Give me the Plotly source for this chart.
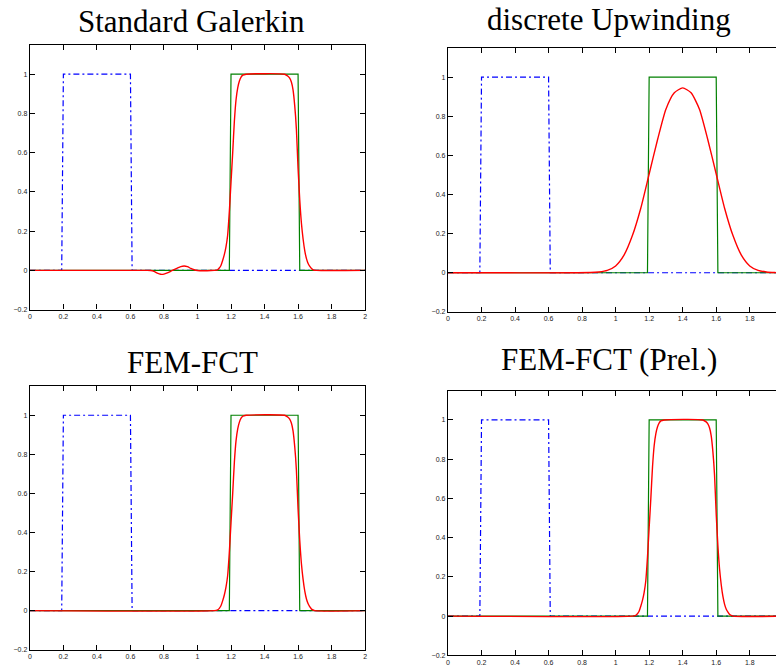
import plotly.graph_objects as go

W, H = 778, 666

# Initial profile (box on [0.2, 0.6]) and exact transported profile (box on [1.2, 1.6])
x_init = [0.0, 0.19, 0.20, 0.60, 0.61, 2.0]
u_init = [0, 0, 1, 1, 0, 0]
x_exact = [0.0, 1.19, 1.20, 1.60, 1.61, 2.0]
u_exact = [0, 0, 1, 1, 0, 0]

# Numerical solutions
x_gal = [0.0, 0.70, 0.72, 0.74, 0.76, 0.78, 0.80, 0.82, 0.84, 0.86, 0.88, 0.90,
         0.92, 0.94, 0.96, 0.98, 1.00, 1.04, 1.08, 1.10, 1.12, 1.13, 1.14, 1.15,
         1.16, 1.17, 1.18, 1.19, 1.20, 1.21, 1.22, 1.23, 1.24, 1.25, 1.26, 1.27,
         1.29, 1.52, 1.54, 1.55, 1.56, 1.57, 1.58, 1.59, 1.60, 1.61, 1.62, 1.63,
         1.64, 1.65, 1.66, 1.67, 1.68, 1.69, 1.71, 2.0]
u_gal = [0.0, 0.0, -0.001, -0.005, -0.014, -0.020, -0.019, -0.013, -0.005, 0.004,
         0.012, 0.019, 0.022, 0.019, 0.010, 0.003, -0.001, -0.002, -0.001, 0.0,
         0.003, 0.012, 0.025, 0.05, 0.08, 0.12, 0.18, 0.30, 0.45, 0.60, 0.76,
         0.87, 0.93, 0.965, 0.985, 0.995, 1.0, 1.0, 0.99, 0.98, 0.96, 0.92, 0.84,
         0.72, 0.52, 0.36, 0.24, 0.16, 0.10, 0.06, 0.035, 0.02, 0.01, 0.003, 0.0,
         0.0]

x_upw = [0.0, 0.85, 0.90, 0.95, 1.00, 1.05, 1.10, 1.15, 1.20, 1.25, 1.30, 1.35,
         1.40, 1.45, 1.50, 1.55, 1.60, 1.65, 1.70, 1.75, 1.80, 1.85, 1.90, 1.95,
         2.0]
u_upw = [0.0, 0.001, 0.004, 0.012, 0.035, 0.09, 0.19, 0.33, 0.505, 0.68, 0.836,
         0.92, 0.945, 0.92, 0.836, 0.68, 0.505, 0.33, 0.19, 0.09, 0.035, 0.012,
         0.004, 0.001, 0.0]

x_fct = [0.0, 1.10, 1.12, 1.13, 1.14, 1.15, 1.16, 1.17, 1.18, 1.19, 1.20, 1.21,
         1.22, 1.23, 1.24, 1.25, 1.26, 1.27, 1.29, 1.52, 1.54, 1.55, 1.56, 1.57,
         1.58, 1.59, 1.60, 1.61, 1.62, 1.63, 1.64, 1.65, 1.66, 1.67, 1.68, 1.70,
         2.0]
u_fct = [0.0, 0.0, 0.004, 0.012, 0.025, 0.05, 0.08, 0.12, 0.18, 0.30, 0.45, 0.60,
         0.76, 0.87, 0.93, 0.965, 0.985, 0.995, 1.0, 1.0, 0.99, 0.98, 0.96, 0.92,
         0.84, 0.72, 0.52, 0.36, 0.24, 0.16, 0.10, 0.06, 0.035, 0.02, 0.008, 0.0,
         0.0]

x_prel = list(x_fct)
u_prel = list(u_fct)

titles = ["Standard Galerkin", "discrete Upwinding", "FEM-FCT", "FEM-FCT (Prel.)"]
solutions = [(x_gal, u_gal), (x_upw, u_upw), (x_fct, u_fct), (x_prel, u_prel)]

# Panel frames in pixels: (left, right, top, bottom), title centre (x, y)
frames = [
    (28.0, 365.0, 45.0, 311.0, 190, 22),
    (448.3, 778.0, 48.0, 313.3, 610, 20),
    (28.0, 365.0, 387.7, 652.7, 191, 364),
    (448.3, 778.0, 392.3, 658.3, 610, 361),
]
px_per_unit_x = 337.0 / 2.0

BLUE = "#0000ff"
GREEN = "#008000"
RED = "#ff0000"
DASHDOT = "6px,3px,2px,3px"

fig = go.Figure()
layout = dict(
    width=W, height=H,
    margin=dict(l=0, r=0, t=0, b=0),
    paper_bgcolor="white", plot_bgcolor="white",
    showlegend=False,
    annotations=[],
)

tickfont = dict(family="Liberation Sans, Arial, sans-serif", size=7, color="#222222")

for i, (title, (xs, us), fr) in enumerate(zip(titles, solutions, frames)):
    left, right, top, bottom, tx, ty = fr
    k = "" if i == 0 else str(i + 1)
    xa, ya = "x" + k, "y" + k
    right_col = i % 2 == 1
    xmax = (right - left) / px_per_unit_x

    fig.add_trace(go.Scatter(x=x_init, y=u_init, mode="lines", xaxis=xa, yaxis=ya,
                             line=dict(color=BLUE, width=1.2, dash=DASHDOT)))
    fig.add_trace(go.Scatter(x=x_exact, y=u_exact, mode="lines", xaxis=xa, yaxis=ya,
                             line=dict(color=GREEN, width=1.2)))
    fig.add_trace(go.Scatter(x=xs, y=us, mode="lines", xaxis=xa, yaxis=ya,
                             line=dict(color=RED, width=1.4, shape="spline", smoothing=0.6)))

    layout["xaxis" + k] = dict(
        domain=[left / W, right / W], range=[0, xmax], anchor=ya,
        tick0=0, dtick=0.2, ticks="inside", ticklen=5, tickwidth=1, tickcolor="black",
        showline=True, linecolor="black", linewidth=1.3, mirror="ticks",
        showgrid=False, zeroline=False, tickfont=tickfont,
    )
    layout["yaxis" + k] = dict(
        domain=[1 - bottom / H, 1 - top / H], range=[-0.2, 1.15], anchor=xa,
        tick0=0, dtick=0.2, ticks="inside", ticklen=5, tickwidth=1, tickcolor="black",
        showline=True, linecolor="black", linewidth=1.3,
        mirror=False if right_col else "ticks",
        showgrid=False, zeroline=False, tickfont=tickfont,
    )
    layout["annotations"].append(dict(
        text=title, x=tx / W, y=1 - ty / H, xref="paper", yref="paper",
        xanchor="center", yanchor="middle", showarrow=False,
        font=dict(family="Liberation Serif, Times New Roman, serif", size=31, color="black"),
    ))

fig.update_layout(**layout)
fig.write_html("out.html")
